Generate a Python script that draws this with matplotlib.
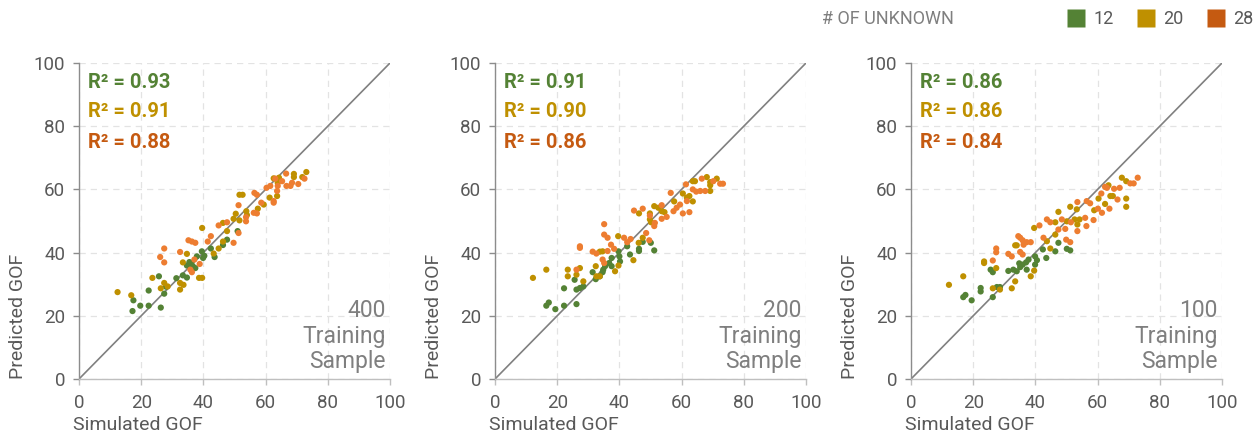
import matplotlib
matplotlib.use("Agg")
import matplotlib.pyplot as plt
from matplotlib.lines import Line2D

plt.rcParams['font.family'] = ['Roboto', 'DejaVu Sans']

# ---------------- data ----------------
series_labels = ["12", "20", "28"]
point_colors = ["#548235", "#BF9000", "#ED7D31"]
text_colors = ["#548235", "#BF9000", "#C55A11"]
legend_colors = ["#548235", "#BF9000", "#C55A11"]

panel_titles = ["400", "200", "100"]
r2_values = [[0.93, 0.91, 0.88], [0.91, 0.90, 0.86], [0.86, 0.86, 0.84]]

# Panel 1 (400 training samples)
p1_g_x = [17.2, 17.5, 19.7, 22.4, 22.4, 25.7, 26.3, 27.4, 31.3, 33.4, 34.7, 34.7, 36.1, 36.6, 37.4, 37.9, 39.5, 39.9, 40.3, 42.4, 43.6, 46.3, 47.6, 51.0, 28.0, 35.5]
p1_g_y = [21.5, 24.9, 23.2, 28.0, 23.2, 32.5, 22.6, 27.0, 31.9, 32.8, 35.9, 32.1, 36.7, 35.7, 35.1, 38.8, 40.4, 38.3, 39.0, 41.3, 38.6, 42.4, 44.1, 46.8, 29.2, 37.0]
p1_y_x = [12.4, 16.8, 23.6, 26.3, 27.4, 28.5, 32.5, 33.4, 34.7, 32.5, 33.6, 38.6, 39.6, 39.6, 43.3, 44.9, 46.3, 47.6, 46.3, 49.7, 50.4, 51.6, 52.6, 51.6, 53.8, 54.0, 57.5, 59.4, 61.3, 62.6, 63.7, 63.9, 69.1, 69.1, 71.8, 73.1, 64.3]
p1_y_y = [27.5, 26.5, 32.0, 28.7, 30.4, 29.3, 28.3, 36.9, 39.6, 30.4, 29.8, 32.0, 32.0, 47.8, 39.7, 41.3, 49.4, 46.8, 43.5, 50.7, 52.3, 58.3, 58.3, 50.2, 53.1, 51.9, 53.9, 55.2, 57.4, 63.5, 57.9, 62.1, 63.9, 64.9, 63.9, 65.5, 63.7]
p1_o_x = [26.1, 27.4, 27.4, 32.5, 35.2, 36.3, 37.4, 35.8, 36.3, 37.1, 38.8, 41.4, 42.4, 44.9, 47.6, 49.7, 51.3, 51.3, 53.7, 53.7, 56.4, 57.2, 56.2, 57.2, 58.6, 60.3, 61.5, 62.6, 62.6, 63.7, 63.9, 65.3, 66.6, 66.7, 68.0, 70.5, 72.5, 63.1, 68.5]
p1_o_y = [38.6, 41.3, 36.9, 40.2, 43.9, 43.5, 43.1, 34.6, 33.8, 37.8, 36.4, 43.5, 45.2, 48.6, 49.6, 43.1, 55.0, 46.2, 51.2, 49.9, 58.9, 58.3, 52.6, 52.4, 55.8, 60.5, 61.1, 56.3, 55.8, 59.5, 61.1, 62.6, 65.0, 61.1, 61.1, 61.7, 63.4, 63.4, 62.1]

# Panel 2 (200 training samples)
p2_g_x = [16.5, 17.3, 19.4, 22.2, 22.2, 25.6, 26.2, 26.2, 27.3, 28.4, 31.4, 32.4, 33.7, 34.8, 35.4, 36.7, 37.5, 37.5, 39.7, 40.0, 40.2, 42.5, 43.4, 46.3, 46.3, 47.5, 50.1, 51.2, 34.6]
p2_g_y = [23.2, 24.2, 22.1, 28.7, 23.2, 31.4, 28.3, 23.7, 28.8, 29.3, 33.8, 31.6, 32.5, 34.6, 35.7, 36.7, 38.3, 35.7, 40.4, 38.8, 37.2, 42.0, 39.4, 41.2, 40.5, 43.4, 43.1, 40.7, 33.8]
p2_y_x = [12.2, 16.5, 23.4, 23.4, 26.2, 27.3, 28.4, 32.4, 32.6, 33.7, 33.7, 34.6, 38.6, 39.6, 39.7, 44.5, 46.2, 46.3, 47.5, 49.8, 49.8, 50.2, 51.2, 52.5, 53.6, 54.5, 57.6, 60.4, 61.7, 62.5, 63.6, 64.3, 63.6, 68.1, 69.2, 69.2, 69.2, 71.3]
p2_y_y = [32.0, 34.6, 34.6, 32.5, 33.0, 35.1, 30.9, 35.7, 32.5, 32.5, 40.3, 40.4, 34.1, 45.2, 35.9, 37.6, 43.1, 52.4, 44.7, 50.5, 52.4, 49.6, 54.7, 54.2, 53.1, 52.8, 56.2, 58.7, 57.4, 57.9, 62.6, 62.6, 56.2, 63.9, 62.3, 59.5, 61.3, 63.4]
p2_o_x = [26.2, 27.3, 27.3, 31.4, 32.6, 35.1, 35.1, 36.2, 34.6, 35.1, 36.2, 37.3, 38.3, 41.5, 42.5, 43.6, 44.7, 47.5, 48.6, 49.6, 49.8, 51.2, 51.4, 53.6, 53.6, 55.2, 56.5, 57.4, 58.4, 59.5, 60.4, 61.4, 61.7, 62.5, 63.6, 64.7, 66.0, 66.5, 67.6, 70.2, 72.4, 73.3]
p2_o_y = [34.6, 41.5, 42.0, 40.3, 39.7, 49.0, 45.7, 44.7, 37.8, 36.7, 40.5, 42.5, 41.2, 44.7, 43.3, 44.3, 53.3, 53.9, 46.2, 43.9, 51.7, 48.4, 49.4, 55.0, 50.7, 51.3, 58.9, 53.1, 54.2, 55.2, 52.4, 61.6, 56.3, 52.8, 60.0, 59.3, 59.5, 63.4, 59.5, 62.6, 61.8, 61.8]

# Panel 3 (100 training samples)
p3_g_x = [16.8, 17.5, 19.5, 22.4, 22.4, 25.6, 26.3, 26.3, 27.6, 28.6, 31.3, 32.9, 34.0, 35.1, 35.9, 37.0, 37.2, 37.8, 39.9, 39.9, 40.5, 42.4, 43.5, 46.4, 47.4, 50.1, 51.2, 34.8]
p3_g_y = [25.9, 26.6, 24.9, 28.8, 27.7, 34.6, 33.8, 25.9, 29.1, 29.1, 34.2, 34.6, 34.1, 35.4, 36.2, 36.9, 34.6, 37.8, 38.8, 36.2, 37.6, 41.0, 38.3, 40.4, 43.1, 41.2, 40.7, 36.6]
p3_y_x = [12.2, 16.8, 23.5, 23.5, 26.3, 27.4, 28.6, 32.4, 33.5, 34.0, 33.5, 38.5, 39.6, 39.6, 43.7, 44.8, 46.4, 47.4, 46.4, 50.1, 51.2, 52.6, 53.3, 53.5, 54.2, 58.9, 60.3, 62.4, 63.5, 64.1, 64.9, 67.8, 69.2, 69.2, 69.2]
p3_y_y = [29.8, 32.5, 37.2, 36.7, 28.7, 35.1, 28.3, 28.7, 42.3, 42.3, 30.9, 32.5, 34.3, 47.8, 43.6, 41.3, 45.7, 52.9, 49.6, 49.9, 54.5, 50.5, 53.7, 48.9, 50.5, 53.4, 57.1, 55.4, 61.3, 57.9, 57.9, 63.7, 62.6, 57.1, 54.5]
p3_o_x = [26.3, 27.4, 27.4, 31.3, 32.4, 34.5, 35.1, 35.9, 36.2, 35.1, 35.9, 37.2, 38.5, 41.3, 42.6, 43.7, 44.8, 47.4, 48.5, 49.6, 49.9, 51.2, 51.4, 53.5, 53.5, 56.0, 56.4, 56.5, 57.6, 58.7, 60.1, 61.2, 61.4, 62.4, 63.0, 63.8, 65.3, 66.4, 67.1, 70.5, 71.6, 72.9]
p3_o_y = [37.5, 41.3, 40.1, 39.6, 38.8, 45.2, 44.7, 43.9, 42.5, 40.2, 39.4, 43.3, 43.3, 48.6, 44.7, 50.5, 49.6, 47.3, 50.5, 47.5, 44.1, 43.3, 49.6, 56.0, 46.8, 51.0, 48.4, 56.3, 55.6, 50.3, 53.9, 58.7, 52.6, 60.8, 60.5, 53.9, 60.2, 56.8, 60.5, 61.9, 61.9, 63.7]

panels = [
    [(p1_g_x, p1_g_y), (p1_y_x, p1_y_y), (p1_o_x, p1_o_y)],
    [(p2_g_x, p2_g_y), (p2_y_x, p2_y_y), (p2_o_x, p2_o_y)],
    [(p3_g_x, p3_g_y), (p3_y_x, p3_y_y), (p3_o_x, p3_o_y)],
]
ticks = [0, 20, 40, 60, 80, 100]

# ---------------- figure ----------------
W, H = 1255, 438
fig = plt.figure(figsize=(W / 100, H / 100), dpi=100)

lefts = [79, 495, 911]
ax_w, ax_top, ax_bot = 311, 63, 379
tick_col = "#595959"
lab_col = "#595959"
r2_pos = [0.937, 0.848, 0.747]

for i, left in enumerate(lefts):
    ax = fig.add_axes([left / W, (H - ax_bot) / H, ax_w / W, (ax_bot - ax_top) / H])
    ax.set_xlim(0, 100)
    ax.set_ylim(0, 100)
    ax.set_xticks(ticks)
    ax.set_yticks(ticks)
    ax.grid(True, color="#e3e3e3", linestyle=(0, (5, 4)), linewidth=0.9)
    ax.set_axisbelow(True)
    for s in ["top", "right"]:
        ax.spines[s].set_visible(False)
    ax.spines["left"].set_color("#8c8c8c")
    ax.spines["bottom"].set_color("#bfbfbf")
    ax.spines["left"].set_linewidth(1.0)
    ax.spines["bottom"].set_linewidth(1.0)
    ax.tick_params(axis="both", direction="out", length=4, width=1.0,
                   colors="#bfbfbf", labelcolor=tick_col, labelsize=13.5)
    ax.tick_params(axis="x", pad=7)
    ax.tick_params(axis="y", colors="#8c8c8c", labelcolor=tick_col, pad=6)

    # diagonal 1:1 line
    ax.plot([0, 100], [0, 100], color="#808080", linewidth=1.2, zorder=2)

    for (xs, ys), c in zip(panels[i], point_colors):
        ax.scatter(xs, ys, s=20, color=c, edgecolors="none", zorder=3)

    # R² annotations
    for k, (r2, c) in enumerate(zip(r2_values[i], text_colors)):
        ax.text(0.028, r2_pos[k], f"R² = {r2:.2f}", transform=ax.transAxes,
                color=c, fontsize=14.5, fontweight="bold", ha="left", va="center")

    ax.text(0.985, 0.136, f"{panel_titles[i]}\nTraining\nSample", transform=ax.transAxes,
            ha="right", va="center", color="#7f7f7f", fontsize=16.5, linespacing=1.12)

    ax.set_xlabel("Simulated GOF", color=lab_col, fontsize=14)
    ax.set_ylabel("Predicted GOF", color=lab_col, fontsize=14)
    ax.xaxis.set_label_coords(-0.02, -0.147)
    ax.xaxis.label.set_horizontalalignment("left")
    ax.xaxis.label.set_verticalalignment("center")
    ax.yaxis.set_label_coords(-0.195, 0.0)
    ax.yaxis.label.set_verticalalignment("center")
    ax.yaxis.label.set_horizontalalignment("left")

# legend
fig.text(822 / W, 1 - 19 / H, "# OF UNKNOWN", color="#7f7f7f", fontsize=13,
         ha="left", va="center")
handles = [Line2D([0], [0], marker="s", linestyle="none", markersize=13,
                  markerfacecolor=c, markeredgecolor="none") for c in legend_colors]
fig.legend(handles, series_labels, loc="center", ncol=3, frameon=False,
           bbox_to_anchor=(1160 / W, 1 - 19 / H), fontsize=13, labelcolor="#595959",
           handlelength=1.0, handletextpad=0.45, columnspacing=1.3)

fig.savefig("out.png", dpi=100)
